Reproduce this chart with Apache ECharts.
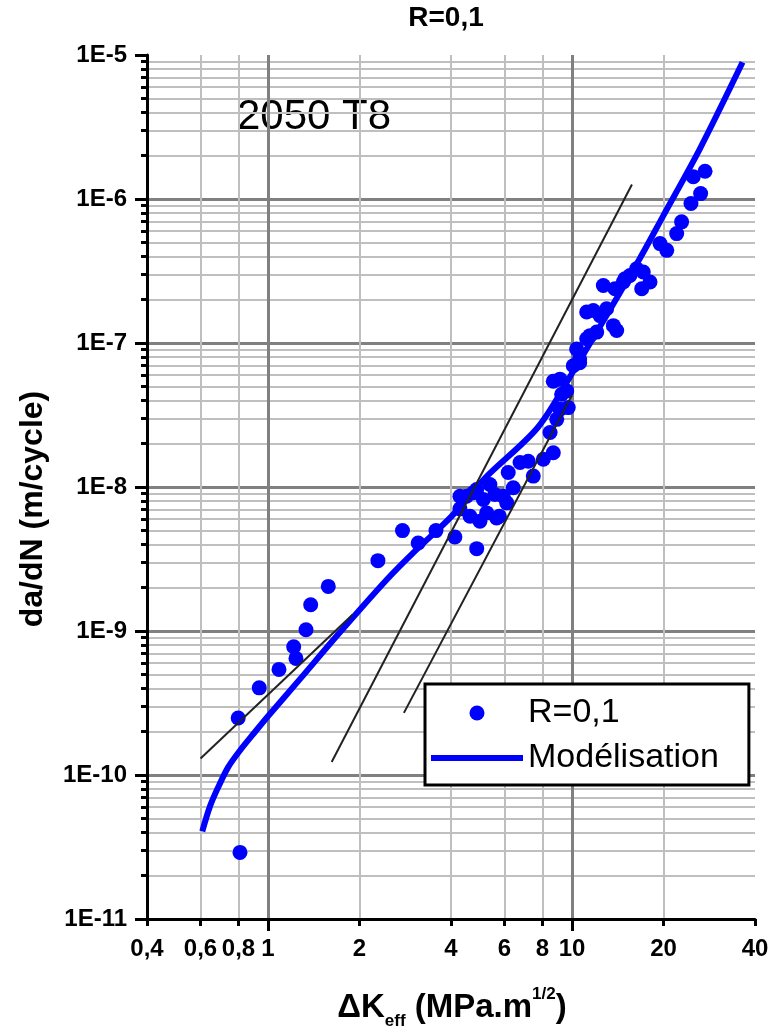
<!DOCTYPE html>
<html>
<head>
<meta charset="utf-8">
<script src="https://cdn.jsdelivr.net/npm/echarts@6.0.0/dist/echarts.min.js"></script>
<style>
  html, body { margin: 0; padding: 0; background: #fff; }
  #chart { width: 771px; height: 1033px; }
</style>
</head>
<body>
<div id="chart"></div>
<script>
// axes
var xTickLabels = [0.4, 0.6, 0.8, 1, 2, 4, 6, 8, 10, 20, 40];
var xMinorTicks = [0.4, 0.6, 0.8, 2, 4, 6, 8, 20, 40];
var xMajorTicks = [1, 10];
var yMajorTicks = [1e-11, 1e-10, 1e-9, 1e-8, 1e-7, 1e-6, 1e-5];
var yMinorTicks = [
  2e-11, 3e-11, 4e-11, 5e-11, 6e-11, 7e-11, 8e-11, 9e-11,
  2e-10, 3e-10, 4e-10, 5e-10, 6e-10, 7e-10, 8e-10, 9e-10,
  2e-9, 3e-9, 4e-9, 5e-9, 6e-9, 7e-9, 8e-9, 9e-9,
  2e-8, 3e-8, 4e-8, 5e-8, 6e-8, 7e-8, 8e-8, 9e-8,
  2e-7, 3e-7, 4e-7, 5e-7, 6e-7, 7e-7, 8e-7, 9e-7,
  2e-6, 3e-6, 4e-6, 5e-6, 6e-6, 7e-6, 8e-6, 9e-6
];

// mesures R=0,1 : ΔKeff (MPa.m^1/2) / da/dN (m/cycle)
var dkMes = [0.798, 0.809, 0.936, 1.087, 1.215, 1.236, 1.334, 1.382, 1.579, 2.30,
  2.77, 3.12, 3.57, 4.12, 4.28, 4.86, 4.74, 5.24, 5.77, 5.94,
  6.17, 6.75, 7.46, 8.05, 8.68, 4.50, 5.11, 6.41, 7.18, 8.47,
  9.13, 9.72, 9.25, 9.13, 10.1, 10.36, 11.18, 12.06, 14.03, 11.75,
  13.0, 13.68, 12.68, 13.85, 15.52, 16.96, 17.16, 14.94, 19.48, 20.5,
  22.1, 22.94, 24.63, 26.5, 25.06, 27.4,
  5.37, 5.58, 8.68, 8.91, 9.61, 10.6, 11.46, 14.75, 18.06, 16.32,
  11.18, 12.36, 10.6, 4.28, 4.62, 4.98, 5.65, 6.1, 4.86];
var dadnMes = [2.49e-10, 2.90e-11, 4.03e-10, 5.41e-10, 7.78e-10, 6.45e-10, 1.02e-9, 1.52e-9, 2.04e-9, 3.08e-9,
  4.98e-9, 4.08e-9, 4.98e-9, 4.50e-9, 7.05e-9, 3.73e-9, 9.12e-9, 6.61e-9, 6.26e-9, 8.63e-9,
  1.26e-8, 1.48e-8, 1.19e-8, 1.56e-8, 1.73e-8, 8.63e-9, 8.18e-9, 9.87e-9, 1.51e-8, 2.39e-8,
  3.47e-8, 3.56e-8, 4.41e-8, 5.61e-8, 6.95e-8, 9.08e-8, 1.07e-7, 1.19e-7, 1.22e-7, 1.68e-7,
  1.73e-7, 1.32e-7, 2.51e-7, 2.38e-7, 2.94e-7, 2.38e-7, 3.11e-7, 2.79e-7, 4.90e-7, 4.40e-7,
  5.75e-7, 6.94e-7, 9.3e-7, 1.09e-6, 1.43e-6, 1.56e-6,
  1.04e-8, 8.87e-9, 5.43e-8, 2.95e-8, 4.65e-8, 7.74e-8, 1.125e-7, 2.65e-7, 2.65e-7, 3.28e-7,
  1.64e-7, 1.55e-7, 7.3e-8, 8.63e-9, 6.26e-9, 5.78e-9, 6.1e-9, 7.76e-9, 9.6e-9];

// modelisation
var dkModel = [0.608, 0.644, 0.685, 0.739, 0.809, 0.899, 1.0, 1.274, 1.683, 2.457, 3.05, 4.0, 5.17, 7.73, 10.2, 16.7, 20.0, 26.4, 36.4];
var dadnModel = [4.06e-11, 6.03e-11, 8.18e-11, 1.13e-10, 1.48e-10, 1.95e-10, 2.56e-10, 4.63e-10, 9.23e-10, 2.27e-9, 3.6e-9, 6.2e-9, 1.15e-8, 2.6e-8, 6.6e-8, 3.85e-7, 7.7e-7, 2.25e-6, 8.9e-6];

// droites de pente
var slope1X = [0.6, 1.9], slope1Y = [1.3e-10, 1.30e-9];
var slope2X = [1.62, 15.75], slope2Y = [1.23e-10, 1.26e-6];
var slope3X = [2.80, 10.0], slope3Y = [2.70e-10, 4.34e-8];

function pairs(xs, ys) {
  return xs.map(function (x, i) { return [x, ys[i]]; });
}

var FONT = '"Liberation Sans", Arial, sans-serif';
var myChart = echarts.init(document.getElementById('chart'));

var logX = {
  type: 'log', logBase: 10, min: 0.4, max: 40, gridIndex: 0, position: 'bottom'
};
var logY = {
  type: 'log', logBase: 10, min: 1e-11, max: 1e-5, gridIndex: 0, position: 'left'
};

myChart.setOption({
  animation: false,
  backgroundColor: '#fff',
  textStyle: { fontFamily: FONT },
  grid: { left: 147, right: 16, top: 55, bottom: 114, containLabel: false, outerBoundsMode: 'none' },
  xAxis: [
    Object.assign({}, logX, {
      axisLine: { show: true, lineStyle: { color: '#000', width: 3 } },
      axisTick: { show: true, customValues: xMinorTicks, length: 7, lineStyle: { color: '#000', width: 3 } },
      axisLabel: {
        customValues: xTickLabels,
        margin: 18,
        color: '#000',
        fontSize: 24,
        fontWeight: 'bold',
        formatter: function (v) { return String(v).replace('.', ','); }
      },
      splitLine: { show: true, showMaxLine: false, lineStyle: { color: '#bfbfbf', width: 2 } }
    }),
    Object.assign({}, logX, {
      axisLine: { show: false },
      axisTick: { show: true, customValues: xMajorTicks, length: 12, lineStyle: { color: '#000', width: 3 } },
      axisLabel: { show: false },
      splitLine: { show: true, lineStyle: { color: '#808080', width: 3 } }
    })
  ],
  yAxis: [
    Object.assign({}, logY, {
      axisLine: { show: true, lineStyle: { color: '#000', width: 3 } },
      axisTick: { show: true, customValues: yMinorTicks, length: 6, lineStyle: { color: '#000', width: 3 } },
      axisLabel: { show: false },
      splitLine: { show: true, lineStyle: { color: '#bfbfbf', width: 2 } }
    }),
    Object.assign({}, logY, {
      axisLine: { show: false },
      axisTick: { show: true, customValues: yMajorTicks, length: 12, lineStyle: { color: '#000', width: 3 } },
      axisLabel: {
        customValues: yMajorTicks,
        margin: 20,
        color: '#000',
        fontSize: 24,
        fontWeight: 'bold',
        formatter: function (v) { return '1E' + Math.round(Math.log10(v)); }
      },
      splitLine: { show: true, showMaxLine: false, lineStyle: { color: '#808080', width: 3 } }
    })
  ],
  legend: {
    data: [
      { name: 'R=0,1' },
      { name: 'Modélisation', itemStyle: { opacity: 0 }, lineStyle: { width: 6, color: '#0000ff', opacity: 1 } }
    ],
    orient: 'vertical',
    left: 425,
    top: 684,
    padding: [12, 30, 10, 3],
    itemWidth: 92,
    itemHeight: 15,
    itemGap: 11,
    backgroundColor: '#fff',
    borderColor: '#000',
    borderWidth: 3,
    borderRadius: 0,
    textStyle: { fontSize: 34, color: '#000', fontFamily: FONT }
  },
  graphic: [
    {
      type: 'text', x: 446, y: 18,
      style: { text: 'R=0,1', fill: '#000', font: 'bold 28px ' + FONT, align: 'center', verticalAlign: 'middle', textAlign: 'center', textVerticalAlign: 'middle' }
    },
    {
      type: 'text', x: 237, y: 117,
      style: { text: '2050 T8', fill: '#000', font: '42px ' + FONT, align: 'left', verticalAlign: 'middle', textAlign: 'left', textVerticalAlign: 'middle' }
    },
    {
      type: 'text', x: 33, y: 509, rotation: Math.PI / 2,
      style: { text: 'da/dN (m/cycle)', fill: '#000', font: 'bold 32px ' + FONT, align: 'center', verticalAlign: 'middle', textAlign: 'center', textVerticalAlign: 'middle' }
    },
    {
      type: 'text', x: 452, y: 1008,
      style: {
        text: 'ΔK{sub|eff} (MPa.m{sup|1/2})',
        fill: '#000', font: 'bold 33px ' + FONT, fontSize: 33, fontWeight: 'bold', fontFamily: FONT,
        lineHeight: 44,
        align: 'center', verticalAlign: 'middle', textAlign: 'center', textVerticalAlign: 'middle',
        rich: {
          sub: { fontSize: 17, fontWeight: 'bold', fontFamily: FONT, fill: '#000', verticalAlign: 'bottom', lineHeight: 18 },
          sup: { fontSize: 17, fontWeight: 'bold', fontFamily: FONT, fill: '#000', verticalAlign: 'top', lineHeight: 18 }
        }
      }
    }
  ],
  series: [
    {
      name: 'R=0,1',
      type: 'scatter',
      xAxisIndex: 0, yAxisIndex: 0,
      data: pairs(dkMes, dadnMes),
      symbol: 'circle',
      symbolSize: 15,
      itemStyle: { color: '#0000ff', opacity: 1 },
      z: 3
    },
    {
      name: 'Modélisation',
      type: 'line',
      xAxisIndex: 0, yAxisIndex: 0,
      data: pairs(dkModel, dadnModel),
      symbol: 'none',
      showSymbol: false,
      smooth: 0.3,
      itemStyle: { color: '#0000ff' },
      lineStyle: { color: '#0000ff', width: 6 },
      z: 4
    },
    {
      name: 'pente1', type: 'line', data: pairs(slope1X, slope1Y), symbol: 'none',
      lineStyle: { color: '#222', width: 2 }, z: 5
    },
    {
      name: 'pente2', type: 'line', data: pairs(slope2X, slope2Y), symbol: 'none',
      lineStyle: { color: '#222', width: 2 }, z: 5
    },
    {
      name: 'pente3', type: 'line', data: pairs(slope3X, slope3Y), symbol: 'none',
      lineStyle: { color: '#222', width: 2 }, z: 5
    }
  ]
});
</script>
</body>
</html>
